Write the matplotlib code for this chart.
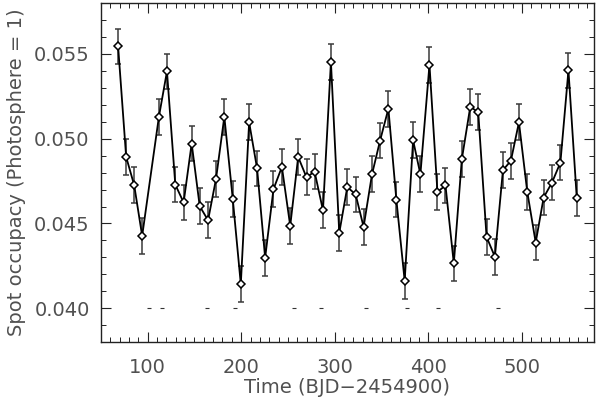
import numpy as np
import matplotlib
matplotlib.use('Agg')
import matplotlib.pyplot as plt
from matplotlib.ticker import MultipleLocator, FormatStrFormatter

# spot occupancy vs time
time = [68.5, 77.1, 85.7, 94.2, 112.1, 120.7, 129.6, 138.5, 147.1, 155.7,
        164.6, 173.1, 182.0, 191.0, 199.6, 208.5, 217.0, 225.6, 234.5, 243.5,
        252.4, 260.9, 269.8, 278.4, 287.4, 295.9, 304.8, 313.4, 322.3, 330.8,
        339.8, 348.4, 357.3, 365.8, 374.7, 383.7, 391.5, 401.2, 409.7, 418.3,
        427.2, 435.8, 444.8, 453.3, 462.2, 471.1, 479.7, 488.2, 496.8, 505.7,
        514.7, 523.2, 532.1, 541.1, 549.7, 558.6]
occ = [0.05543, 0.04892, 0.04725, 0.04427, 0.05129, 0.05396, 0.04729, 0.04624,
       0.04971, 0.04602, 0.04519, 0.04762, 0.05129, 0.04645, 0.04143, 0.05096,
       0.04824, 0.04298, 0.04702, 0.04833, 0.04486, 0.04892, 0.04772, 0.04806,
       0.04578, 0.05451, 0.04445, 0.04715, 0.04671, 0.04480, 0.04790, 0.04988,
       0.05176, 0.04641, 0.04162, 0.04990, 0.04790, 0.05435, 0.04686, 0.04724,
       0.04265, 0.04880, 0.05188, 0.05155, 0.04421, 0.04304, 0.04814, 0.04870,
       0.05096, 0.04686, 0.04388, 0.04653, 0.04741, 0.04859, 0.05402, 0.04649]
err = [0.00105] * len(time)

# little marks sitting on the 0.040 level
flag_t = [102, 115, 163, 193, 256, 285, 333, 377, 410, 474]
flag_y = [0.040] * len(flag_t)

txt = '#505050'
plt.rcParams['font.family'] = ['DejaVu Sans']
plt.rcParams['font.size'] = 14

fig = plt.figure(figsize=(6.0, 3.99), dpi=100)
ax = fig.add_axes([0.168, 0.142, 0.822, 0.851])

ax.errorbar(time, occ, yerr=err, fmt='none', ecolor='#3a3a3a', elinewidth=1.1,
            capsize=2.5, capthick=1.1, zorder=2)
ax.plot(time, occ, '-', color='black', lw=1.3, zorder=3)
ax.plot(time, occ, 'D', ms=4.3, mfc='white', mec='black', mew=1.1, zorder=4)
ax.plot(flag_t, flag_y, '_', ms=3, mew=0.8, color='#333333', ls='none')

ax.set_xlim(50, 577)
ax.set_ylim(0.038, 0.058)
ax.xaxis.set_major_locator(MultipleLocator(100))
ax.xaxis.set_minor_locator(MultipleLocator(10))
ax.yaxis.set_major_locator(MultipleLocator(0.005))
ax.yaxis.set_minor_locator(MultipleLocator(0.001))
ax.yaxis.set_major_formatter(FormatStrFormatter('%.3f'))

ax.tick_params(which='both', direction='in', top=True, right=True,
               colors='#222222', labelcolor=txt, labelsize=14)
ax.tick_params(which='major', length=7, width=0.8, pad=8)
ax.tick_params(which='minor', length=3.5, width=0.7)
ax.tick_params(axis='x', which='major', pad=11)
for s in ax.spines.values():
    s.set_linewidth(1.0)
    s.set_color('#222222')

ax.set_xlabel('Time (BJD\u22122454900)', color=txt, fontsize=14, labelpad=1)
ax.set_ylabel('Spot occupacy (Photosphere = 1)', color=txt, fontsize=14, labelpad=6)

fig.savefig('out.png', dpi=100)
